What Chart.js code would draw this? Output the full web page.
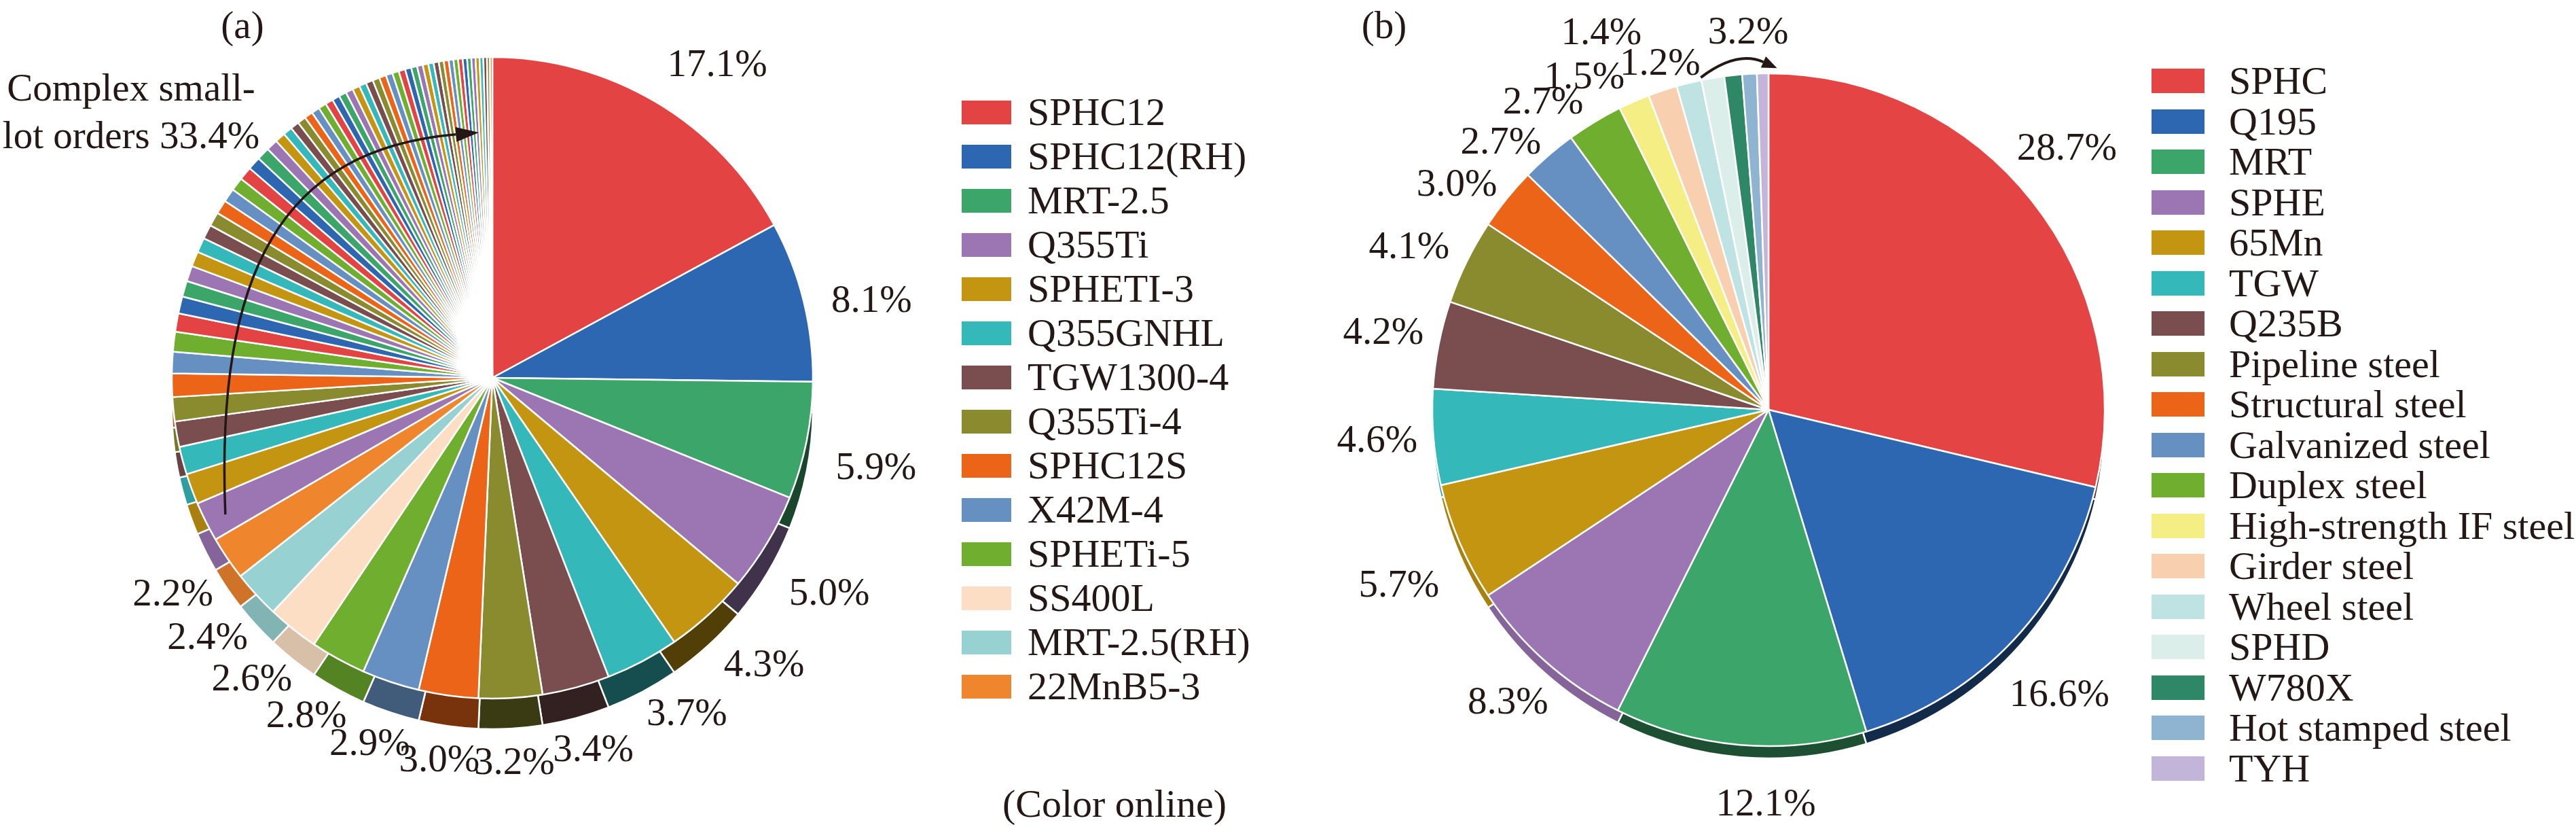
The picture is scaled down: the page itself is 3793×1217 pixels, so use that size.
<!DOCTYPE html>
<html>
<head>
<meta charset="utf-8">
<script src="https://cdn.jsdelivr.net/npm/chart.js@4.4.1/dist/chart.umd.min.js"></script>
<style>
  html, body { margin: 0; padding: 0; background: #fff; }
  body { width: 3793px; height: 1217px; position: relative; overflow: hidden;
         font-family: 'Liberation Serif', 'Times New Roman', serif; color: #231815; }
  canvas { position: absolute; }
  .txt { position: absolute; font-size: 57px; line-height: 1; white-space: nowrap; }
  .leg { font-size: 58px; }
  .mid { transform: translate(-50%, -50%); }
  .box { position: absolute; }
</style>
</head>
<body>
<canvas id="wallA" width="1400" height="1217" style="left:0;top:45px"></canvas>
<canvas id="pieA" width="1400" height="1217" style="left:0;top:0"></canvas>
<canvas id="wallB" width="1250" height="1217" style="left:1900px;top:18px"></canvas>
<canvas id="pieB" width="1250" height="1217" style="left:1900px;top:0"></canvas>

<div class="txt mid" style="left:357px;top:36px">(a)</div>
<div class="txt mid" style="left:2038px;top:36px">(b)</div>
<div class="txt mid" style="left:193px;top:128px">Complex small-</div>
<div class="txt mid" style="left:193px;top:198px">lot orders 33.4%</div>
<div class="txt mid leg" style="left:1641px;top:1183px">(Color online)</div>
<div id="legendA"></div>
<div id="legendB"></div>

<script>
var FONT = "'Liberation Serif', 'Times New Roman', serif";
var INK = '#231815';

// (a) share of orders by grade, %
var gradesA = ['SPHC12', 'SPHC12(RH)', 'MRT-2.5', 'Q355Ti', 'SPHETI-3', 'Q355GNHL', 'TGW1300-4',
  'Q355Ti-4', 'SPHC12S', 'X42M-4', 'SPHETi-5', 'SS400L', 'MRT-2.5(RH)', '22MnB5-3'];
var shareA = [17.1, 8.1, 5.9, 5.0, 4.3, 3.7, 3.4, 3.2, 3.0, 2.9, 2.8, 2.6, 2.4, 2.2];
// complex small-lot orders (33.4% in total), read slice by slice
var smallLotA = [2.00, 1.55, 1.40, 1.28, 1.22, 1.18, 1.08, 1.00, 0.92, 0.86,
  0.80, 0.78, 0.76, 0.74, 0.72, 0.71, 0.70, 0.69, 0.68, 0.67,
  0.66, 0.65, 0.58, 0.52, 0.46, 0.44, 0.43, 0.42, 0.41, 0.40,
  0.39, 0.38, 0.38, 0.37, 0.37, 0.36, 0.36, 0.35, 0.35, 0.34,
  0.33, 0.33, 0.31, 0.30, 0.29, 0.28, 0.27, 0.26, 0.25, 0.25,
  0.24, 0.23, 0.23, 0.22, 0.21, 0.21, 0.20, 0.19, 0.18, 0.15, 0.12];
var colorsA = ['#e44343', '#2e67b1', '#3ca66a', '#9b76b2', '#c39511', '#35b8ba', '#7a4d4e',
  '#8a8a2e', '#ec6418', '#6690c2', '#6fae2e', '#fbdec3', '#98d1d1', '#ef862e'];

// (b) share by steel type, %
var gradesB = ['SPHC', 'Q195', 'MRT', 'SPHE', '65Mn', 'TGW', 'Q235B', 'Pipeline steel',
  'Structural steel', 'Galvanized steel', 'Duplex steel', 'High-strength IF steel',
  'Girder steel', 'Wheel steel', 'SPHD', 'W780X', 'Hot stamped steel', 'TYH'];
var shareB = [28.7, 16.6, 12.1, 8.3, 5.7, 4.6, 4.2, 4.1, 3.0, 2.7, 2.7, 1.5, 1.4, 1.2,
  1.1, 0.85, 0.7, 0.55];
var colorsB = ['#e44444', '#2e67b1', '#3ca66a', '#9b76b2', '#c39511', '#35b8ba', '#7a4d4e',
  '#8a8a2e', '#ec6418', '#6690c2', '#6fae2e', '#f4ee85', '#f8d0b0', '#bfe2e2',
  '#dceeea', '#2e8766', '#8fb4d2', '#c3b5d9'];
var groupB = [14, 17]; // slices summed under the arrow

// small-lot slices reuse the first 11 colours
var valuesA = shareA.concat(smallLotA);
var labelsA = gradesA.concat(smallLotA.map(function (v, i) { return 'Small lot ' + (i + 1); }));
var fillA = valuesA.map(function (v, k) { return colorsA[k < 14 ? k : k % 11]; });

function shade(hex, f) {
  var n = parseInt(hex.slice(1), 16);
  var r = Math.round(((n >> 16) & 255) * f);
  var g = Math.round(((n >> 8) & 255) * f);
  var b = Math.round((n & 255) * f);
  return 'rgb(' + r + ',' + g + ',' + b + ')';
}
function wallFactor(deg) {
  if (deg < 180) return 0.42;
  if (deg > 218) return 0.86;
  return 0.42 + (deg - 180) / 38 * 0.44;
}
function wallColors(values, colors) {
  var total = values.reduce(function (s, v) { return s + v; }, 0);
  var cum = 0;
  return values.map(function (v, i) {
    var mid = (cum + v / 2) / total * 360;
    cum += v;
    return shade(colors[i], wallFactor(mid));
  });
}

function pctLabels(count, gap, nudges, group) {
  return {
    id: 'pctLabels',
    afterDatasetsDraw: function (chart) {
      var arcs = chart.getDatasetMeta(0).data;
      var vals = chart.data.datasets[0].data;
      var ctx = chart.ctx;
      ctx.save();
      ctx.font = '57px ' + FONT;
      ctx.fillStyle = INK;
      ctx.textAlign = 'center';
      ctx.textBaseline = 'middle';
      function put(a0, a1, v, key) {
        var mid = (a0 + a1) / 2, c = arcs[0];
        var d = c.outerRadius + gap;
        var n = nudges[key] || [0, 0];
        ctx.fillText(v.toFixed(1) + '%', c.x + Math.cos(mid) * d + n[0], c.y + Math.sin(mid) * d + n[1]);
      }
      for (var i = 0; i < count; i++) put(arcs[i].startAngle, arcs[i].endAngle, vals[i], i);
      if (group) {
        var sum = 0;
        for (var j = group[0]; j <= group[1]; j++) sum += vals[j];
        put(arcs[group[0]].startAngle, arcs[group[1]].endAngle, sum, 'group');
      }
      ctx.restore();
    }
  };
}

function arrowHead(ctx, tip, from, len, half) {
  var dx = tip[0] - from[0], dy = tip[1] - from[1];
  var l = Math.sqrt(dx * dx + dy * dy); dx /= l; dy /= l;
  var bx = tip[0] - dx * len, by = tip[1] - dy * len;
  ctx.beginPath();
  ctx.moveTo(tip[0], tip[1]);
  ctx.lineTo(bx - dy * half, by + dx * half);
  ctx.lineTo(bx + dy * half, by - dx * half);
  ctx.closePath();
  ctx.fill();
  return [bx, by];
}

var arrowA = {
  id: 'arrowA',
  afterDatasetsDraw: function (chart) {
    var c = chart.getDatasetMeta(0).data[0];
    var R = c.outerRadius;
    var P = [[-0.833, 0.426], [-0.864, -0.331], [-0.657, -0.712], [-0.042, -0.765]].map(function (p) {
      return [c.x + p[0] * R, c.y + p[1] * R];
    });
    var ctx = chart.ctx;
    ctx.save();
    ctx.strokeStyle = INK; ctx.fillStyle = INK; ctx.lineWidth = 3.5;
    var base = arrowHead(ctx, P[3], P[2], 34, 11);
    ctx.beginPath();
    ctx.moveTo(P[0][0], P[0][1]);
    ctx.bezierCurveTo(P[1][0], P[1][1], P[2][0], P[2][1], base[0], base[1]);
    ctx.stroke();
    ctx.restore();
  }
};

var arrowB = {
  id: 'arrowB',
  afterDatasetsDraw: function (chart) {
    var arcs = chart.getDatasetMeta(0).data;
    var c = arcs[0], R = c.outerRadius;
    var a0 = arcs[groupB[0]].startAngle, a1 = arcs[groupB[1]].endAngle + 0.025;
    var am = (a0 + a1) / 2;
    var p0 = [c.x + Math.cos(a0) * (R + 4), c.y + Math.sin(a0) * (R + 4)];
    var p1 = [c.x + Math.cos(a1) * (R + 8), c.y + Math.sin(a1) * (R + 8)];
    var q = [c.x + Math.cos(am) * (R + 36), c.y + Math.sin(am) * (R + 36)];
    var ctx = chart.ctx;
    ctx.save();
    ctx.strokeStyle = INK; ctx.fillStyle = INK; ctx.lineWidth = 4;
    var base = arrowHead(ctx, p1, q, 22, 9);
    ctx.beginPath();
    ctx.moveTo(p0[0], p0[1]);
    ctx.quadraticCurveTo(q[0], q[1], base[0], base[1]);
    ctx.stroke();
    ctx.restore();
  }
};

function pieConfig(labels, values, colors, pad, plugins) {
  return {
    type: 'pie',
    data: {
      labels: labels,
      datasets: [{
        data: values,
        backgroundColor: colors,
        borderColor: '#ffffff',
        borderWidth: 2.5,
        hoverOffset: 0,
        hoverBorderWidth: 0,
        offset: 0
      }]
    },
    options: {
      responsive: false,
      animation: false,
      devicePixelRatio: 1,
      events: [],
      layout: { padding: pad },
      plugins: { legend: { display: false }, tooltip: { enabled: false } }
    },
    plugins: plugins || []
  };
}

// force layout so the serif face is matched before canvas text is drawn
document.body.offsetHeight;

// (a): centre (725,556), radius 472 ; (b): centre (2604,603), radius 495
var padA = { left: 251.75, right: 201.75, top: 82.75, bottom: 187.75 };
var padB = { left: 207.75, right: 49.75, top: 106.75, bottom: 117.75 };

var nudgeA = { 0: [40, 30], 1: [6, 24], 2: [7, 22], 3: [8, 26], 4: [17, 3], 5: [20, -7] };
new Chart(document.getElementById('wallA'), pieConfig(labelsA, valuesA, wallColors(valuesA, fillA), padA));
new Chart(document.getElementById('pieA'), pieConfig(labelsA, valuesA, fillA, padA,
  [pctLabels(14, 97, nudgeA), arrowA]));

var nudgeB = { 0: [-14, -24], 1: [7, 25], 2: [45, 6], 4: [-13, 32], 7: [-10, 16], 8: [-9, 33],
  9: [-16, 45], 10: [-33, 44], 11: [-40, 42], 12: [-64, -4], 13: [-23, 54], group: [28, 21] };
new Chart(document.getElementById('wallB'), pieConfig(gradesB, shareB, wallColors(shareB, colorsB), padB));
new Chart(document.getElementById('pieB'), pieConfig(gradesB, shareB, colorsB, padB,
  [pctLabels(14, 83, nudgeB, groupB), arrowB]));

function buildLegend(el, names, colors, boxX, textX, y0, step, bw, bh) {
  names.forEach(function (name, i) {
    var y = y0 + i * step;
    var box = document.createElement('div');
    box.className = 'box';
    box.style.cssText = 'left:' + boxX + 'px;top:' + (y - bh / 2) + 'px;width:' + bw + 'px;height:' + bh + 'px;background:' + colors[i];
    el.appendChild(box);
    var t = document.createElement('div');
    t.className = 'txt leg';
    t.style.cssText = 'left:' + textX + 'px;top:' + y + 'px;transform:translateY(-50%)';
    t.textContent = name;
    el.appendChild(t);
  });
}
buildLegend(document.getElementById('legendA'), gradesA, colorsA, 1416, 1513, 165, 65, 73, 35);
buildLegend(document.getElementById('legendB'), gradesB, colorsB, 3168, 3282, 119, 59.5, 78, 36);
</script>
</body>
</html>
